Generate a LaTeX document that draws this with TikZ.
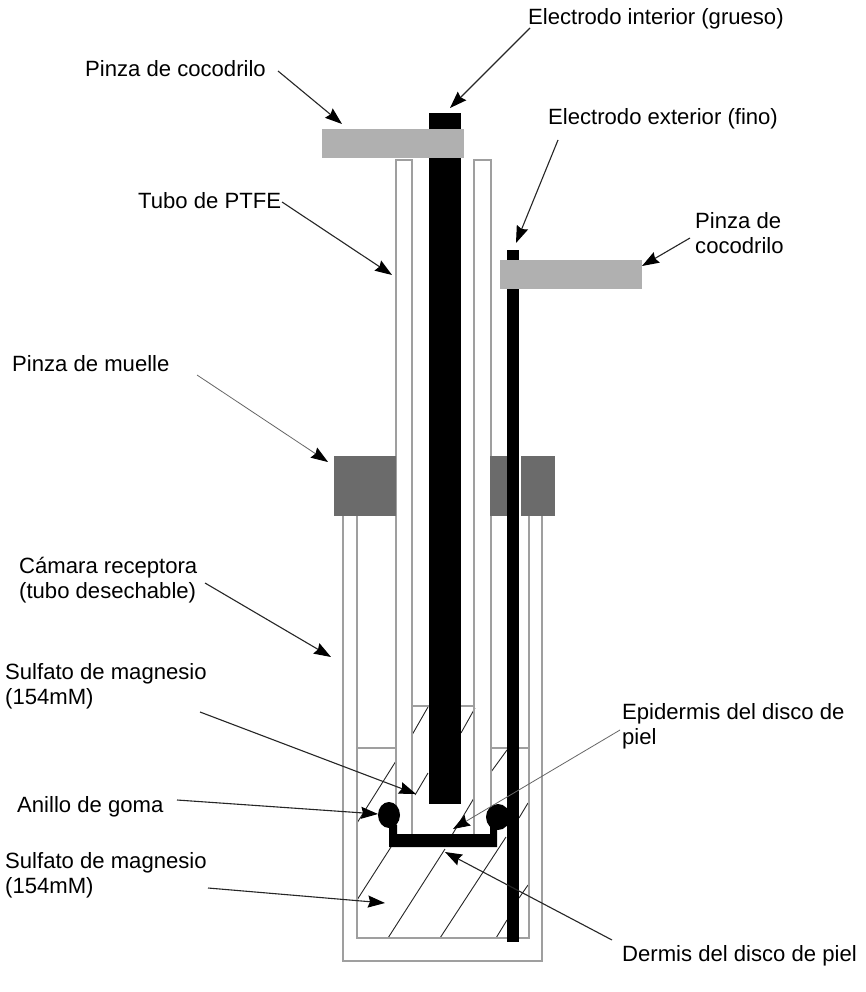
\documentclass[tikz,border=0pt]{standalone}
\usepackage{fontspec}
\setmainfont{Liberation Sans}
\usetikzlibrary{arrows.meta}

\begin{document}
\begin{tikzpicture}[%
    x=1pt, y=-1pt,
    >={Stealth[length=17pt,width=12pt,inset=2pt,black]},
    tubo/.style={draw=gray!75, line width=1.2pt},
    trama/.style={draw=black!85, line width=0.9pt},
    pinza/.style={fill=black!31},
    muelle/.style={fill=black!58},
    flecha/.style={->, draw=black!85, line width=1.1pt},
    fina/.style={->, draw=black!60, line width=0.8pt},
    texto/.style={anchor=west, inner sep=0, align=left, font=\fontsize{22.1}{25}\selectfont}
  ]
    \useasboundingbox (0,0) rectangle (866,992);
    \fill[white] (0,0) rectangle (866,992);

    % trama del sulfato
    \draw[trama] (428,707) -- (412,735);
    \draw[trama] (475,708) -- (461,733);
    \draw[trama] (428,773) -- (415,795);
    \draw[trama] (474,798) -- (452,835);
    \draw[trama] (396,761) -- (357,823);
    \draw[trama] (391,847) -- (357,900);
    \draw[trama] (445,849) -- (388,938);
    \draw[trama] (506,837) -- (440,938);
    \draw[trama] (507,920) -- (496,938);
    \draw[trama] (528,885) -- (519,898);
    \draw[trama] (528,803) -- (519,818);
    \draw[trama] (507,750) -- (491,772);

    % camara receptora
    \draw[tubo] (343,516) -- (343,961) -- (542,961) -- (542,516);
    \draw[tubo] (357,516) -- (357,938) -- (529,938) -- (529,516);
    \draw[tubo] (357,748) -- (396,748);
    \draw[tubo] (491,748) -- (529,748);
    \draw[tubo] (412,706) -- (474,706);

    % tubo de PTFE
    \draw[tubo] (396,826) -- (396,160) -- (412,160) -- (412,834);
    \draw[tubo] (474,834) -- (474,160) -- (491,160) -- (491,826);

    % electrodos
    \fill[black] (429,113) rectangle (461,804);
    \fill[black] (507,250) rectangle (519,942);

    % disco de piel y anillos
    \fill[black] (389,825) -- (397,825) -- (397,834) -- (490,834) -- (490,825) -- (497,825) -- (497,847) -- (389,847) -- cycle;
    \fill[black] (389,815) ellipse [x radius=11, y radius=13];
    \fill[black] (498,817) ellipse [x radius=12, y radius=13];

    % pinzas
    \fill[pinza] (322,129) rectangle (464,158);
    \fill[pinza] (500,260) rectangle (642,289);
    \fill[muelle] (334,456) rectangle (396,516);
    \fill[muelle] (490,456) rectangle (507,516);
    \fill[muelle] (521,456) rectangle (555,516);

    % textos
    \node[texto] (interior) at (528,18.5) {Electrodo interior (grueso)};
    \node[texto] (cocodriloA) at (85,69) {Pinza de cocodrilo};
    \node[texto] (exterior) at (548,118.5) {Electrodo exterior (fino)};
    \node[texto] (ptfe) at (138,201) {Tubo de PTFE};
    \node[texto] (cocodriloB) at (695,233) {Pinza de\\cocodrilo};
    \node[texto] (muelleT) at (12,364) {Pinza de muelle};
    \node[texto] (camara) at (19,580.5) {Cámara receptora\\(tubo desechable)};
    \node[texto] (sulfatoA) at (5,686) {Sulfato de magnesio\\(154mM)};
    \node[texto] (epidermis) at (622,726.5) {Epidermis del disco de\\piel};
    \node[texto] (anillo) at (17,806.5) {Anillo de goma};
    \node[texto] (sulfatoB) at (5,875.5) {Sulfato de magnesio\\(154mM)};
    \node[texto] (dermis) at (622,955.5) {Dermis del disco de piel};

    % flechas
    \coordinate (a1) at (278,71);   \coordinate (b1) at (342,124);
    \coordinate (a2) at (530,28);   \coordinate (b2) at (450,108);
    \coordinate (a3) at (558,140);  \coordinate (b3) at (516,243);
    \coordinate (a4) at (282,202);  \coordinate (b4) at (392,275);
    \coordinate (a5) at (690,238);  \coordinate (b5) at (642,266);
    \coordinate (a6) at (197,375);  \coordinate (b6) at (328,462);
    \coordinate (a7) at (205,583);  \coordinate (b7) at (331,657);
    \coordinate (a8) at (200,712);  \coordinate (b8) at (416,794);
    \coordinate (a9) at (177,800);  \coordinate (b9) at (378,814);
    \coordinate (a10) at (620,730); \coordinate (b10) at (453,829);
    \coordinate (a11) at (208,888); \coordinate (b11) at (385,903);
    \coordinate (a12) at (612,940); \coordinate (b12) at (445,852);

    \draw[flecha] (a1) -- (b1);
    \draw[flecha] (a2) -- (b2);
    \draw[flecha] (a3) -- (b3);
    \draw[flecha] (a4) -- (b4);
    \draw[flecha] (a5) -- (b5);
    \draw[fina] (a6) -- (b6);
    \draw[flecha] (a7) -- (b7);
    \draw[flecha] (a8) -- (b8);
    \draw[flecha] (a9) -- (b9);
    \draw[fina] (a10) -- (b10);
    \draw[flecha] (a11) -- (b11);
    \draw[flecha] (a12) -- (b12);
\end{tikzpicture}
\end{document}
